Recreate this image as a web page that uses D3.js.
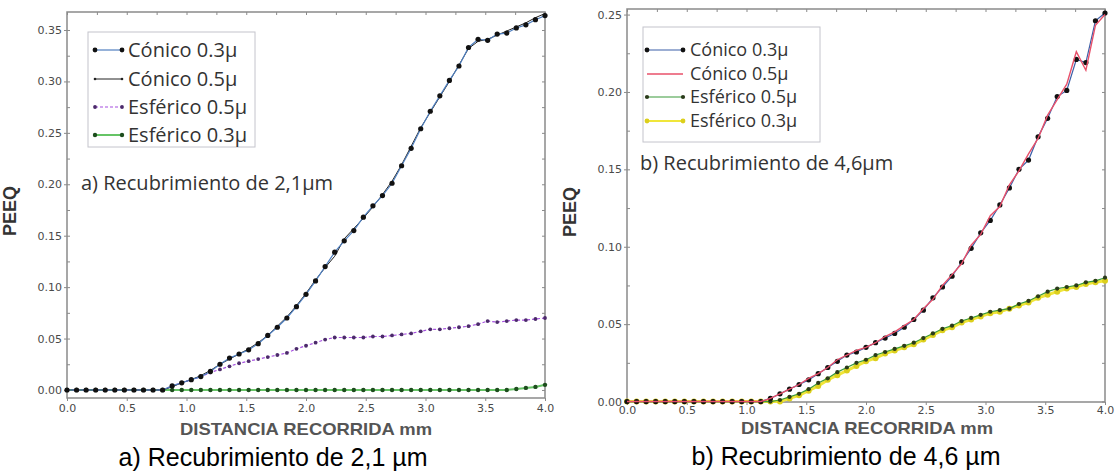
<!DOCTYPE html>
<html>
<head>
<meta charset="utf-8">
<script src="https://cdn.jsdelivr.net/npm/d3@7"></script>
<style>
  body { margin: 0; background: #fff; }
  svg { display: block; }
</style>
</head>
<body>
<script>
// distance along the path (mm), same nodes for every curve
const dist = [0.00,0.08,0.16,0.24,0.32,0.40,0.48,0.56,0.64,0.72,0.80,0.88,0.96,1.04,1.12,1.20,1.28,1.36,1.44,1.52,
  1.60,1.68,1.76,1.84,1.92,2.00,2.08,2.16,2.24,2.32,2.40,2.48,2.56,2.64,2.72,2.80,2.88,2.96,3.04,3.12,
  3.20,3.28,3.36,3.44,3.52,3.60,3.68,3.76,3.84,3.92,4.00];

const xTicks = [0, 0.5, 1, 1.5, 2, 2.5, 3, 3.5, 4];
const yTicksA = [0, 0.05, 0.10, 0.15, 0.20, 0.25, 0.30, 0.35];
const yTicksB = [0, 0.05, 0.10, 0.15, 0.20, 0.25];
const seriesNames = ['Cónico 0.3µ', 'Cónico 0.5µ', 'Esférico 0.5µ', 'Esférico 0.3µ'];

// a) coating 2.1 um
const aConico03 = [0,0,0,0,0,0,0,0,0,0,0,
  0.004,0.007,0.010,0.013,0.018,0.025,0.031,0.035,0.039,0.045,0.053,0.061,0.070,0.081,0.093,0.106,0.120,0.134,0.145,
  0.155,0.168,0.179,0.189,0.201,0.218,0.235,0.254,0.271,0.286,0.301,0.315,0.333,0.341,0.340,0.346,0.347,0.352,0.355,0.360,0.364];
const aConico05 = [0,0,0,0,0,0,0,0,0,0,0,
  0.003,0.007,0.010,0.014,0.019,0.025,0.030,0.035,0.040,0.046,0.053,0.062,0.071,0.082,0.094,0.107,0.119,0.130,0.147,
  0.157,0.167,0.178,0.190,0.203,0.219,0.237,0.255,0.270,0.285,0.300,0.316,0.332,0.339,0.341,0.345,0.349,0.353,0.357,0.362,0.366];
const aEsferico05 = [0,0,0,0,0,0,0,0,0,0,0,
  0.004,0.007,0.010,0.013,0.017,0.020,0.023,0.026,0.028,0.030,0.032,0.034,0.036,0.040,0.043,0.046,0.049,0.051,0.051,
  0.051,0.051,0.052,0.052,0.053,0.054,0.055,0.057,0.059,0.059,0.060,0.061,0.062,0.064,0.067,0.066,0.067,0.068,0.068,0.069,0.070];
const aEsferico03 = [0,0,0,0,0,0,0,0,0,0,0,0,0,0,0,0,0,0,0,0,0,0,0,0,0,0,0,0,0,0,
  0,0,0,0,0,0,0,0,0,0,0,0,0,0,0,0,0,0.001,0.002,0.003,0.005];

// b) coating 4.6 um
const bConico03 = [0,0,0,0,0,0,0,0,0,0,0,0,0,0,0,
  0.002,0.005,0.008,0.011,0.014,0.018,0.022,0.026,0.030,0.032,0.035,0.038,0.041,0.044,0.048,0.053,0.059,0.067,0.074,0.081,
  0.090,0.099,0.109,0.117,0.127,0.138,0.150,0.156,0.171,0.183,0.197,0.201,0.221,0.219,0.246,0.251];
const bConico05 = [0,0,0,0,0,0,0,0,0,0,0,0,0,0,0,
  0.002,0.005,0.008,0.011,0.015,0.018,0.022,0.027,0.030,0.033,0.035,0.038,0.042,0.045,0.049,0.053,0.060,0.066,0.075,0.082,
  0.089,0.101,0.108,0.120,0.126,0.140,0.149,0.160,0.170,0.185,0.195,0.205,0.226,0.214,0.243,0.250];
const bEsferico05 = [0,0,0,0,0,0,0,0,0,0,0,0,0,0,0,
  0.000,0.001,0.003,0.005,0.008,0.012,0.015,0.019,0.022,0.025,0.027,0.030,0.032,0.034,0.036,0.038,0.041,0.044,0.047,0.049,
  0.052,0.054,0.056,0.058,0.059,0.060,0.063,0.065,0.068,0.071,0.073,0.074,0.075,0.077,0.078,0.080];
const bEsferico03 = [0,0,0,0,0,0,0,0,0,0,0,0,0,0,0,
  0.000,0.000,0.002,0.004,0.007,0.010,0.014,0.017,0.020,0.023,0.026,0.028,0.031,0.033,0.035,0.037,0.040,0.043,0.046,0.048,
  0.051,0.053,0.055,0.057,0.058,0.060,0.062,0.064,0.067,0.069,0.071,0.073,0.074,0.076,0.077,0.078];

const svg = d3.select('body').append('svg').attr('width', 1120).attr('height', 475);
svg.append('rect').attr('width', 1120).attr('height', 475).attr('fill', '#fff');

const panels = [
  {
    left: 67, right: 545, top: 12, bottom: 398, yDomain: [-0.0078, 0.3675], yTicks: yTicksA,
    xPad: 3, legend: { x: 88, y: 32, w: 167, h: 115, rows: [50, 79, 107, 135], lx: [95, 122], tx: 128, font: 20 },
    note: { x: 81, y: 190, text: 'a) Recubrimiento de 2,1µm' },
    peeq: [16, 211], xTitle: [306, 435], caption: [273, 466, 'a) Recubrimiento de 2,1 µm'],
    series: [
      { values: aConico03, line: '#4f7fbf', width: 1.2, marker: '#111', r: 2.6 },
      { values: aConico05, line: '#222', width: 1, marker: null, r: 1.3 },
      { values: aEsferico05, line: '#a64fe0', width: 1.2, dash: '3,2', marker: '#4b2a6a', r: 1.9 },
      { values: aEsferico03, line: '#66c466', width: 2, marker: '#1d4d1d', r: 2.2 }
    ],
    order: [3, 2, 1, 0]
  },
  {
    left: 627, right: 1105, top: 9, bottom: 402, yDomain: [-0.0003, 0.2536], yTicks: yTicksB,
    xPad: 1, legend: { x: 643, y: 27, w: 177, h: 115, rows: [50, 74, 97, 121], lx: [647, 683], tx: 690, font: 18 },
    note: { x: 640, y: 170, text: 'b) Recubrimiento de 4,6µm' },
    peeq: [576, 212], xTitle: [867, 434], caption: [846, 465, 'b) Recubrimiento de 4,6 µm'],
    series: [
      { values: bConico03, line: '#3b5fa8', width: 1.2, marker: '#111', r: 2.6 },
      { values: bConico05, line: '#e8506a', width: 1.4, marker: null, r: 0 },
      { values: bEsferico05, line: '#3a9a3a', width: 1.2, marker: '#2a3a1a', r: 2.1 },
      { values: bEsferico03, line: '#f0e63a', width: 3, marker: '#dccf1c', r: 3 }
    ],
    order: [3, 2, 0, 1]
  }
];

function styleAxis(sel) {
  sel.select('.domain').remove();
  sel.selectAll('.tick line').attr('stroke', '#8a8a8a');
  sel.selectAll('.tick text').attr('fill', '#4a4a4a').style('font', '11px "DejaVu Sans", sans-serif');
}

function drawPanel(p) {
  const x = d3.scaleLinear().domain([0, 4]).range([p.left, p.right]);
  const y = d3.scaleLinear().domain(p.yDomain).range([p.bottom, p.top]);
  const g = svg.append('g');
  const minorY = d3.range(0, p.yDomain[1], 0.025);
  const minorX = d3.range(0, 4.01, 0.25);

  // ticks: labelled ones outward on left / bottom, small inward ones all round
  g.append('g').attr('transform', `translate(${p.left},0)`)
    .call(d3.axisLeft(y).tickValues(p.yTicks).tickSize(3).tickPadding(2).tickFormat(d3.format('.2f')))
    .call(styleAxis);
  g.append('g').attr('transform', `translate(${p.left},0)`)
    .call(d3.axisRight(y).tickValues(minorY).tickSize(3).tickFormat(''))
    .call(styleAxis);
  g.append('g').attr('transform', `translate(${p.right},0)`)
    .call(d3.axisLeft(y).tickValues(minorY).tickSize(3).tickFormat(''))
    .call(styleAxis);
  g.append('g').attr('transform', `translate(0,${p.bottom})`)
    .call(d3.axisBottom(x).tickValues(xTicks).tickSize(3).tickPadding(p.xPad).tickFormat(d3.format('.1f')))
    .call(styleAxis);
  g.append('g').attr('transform', `translate(0,${p.top})`)
    .call(d3.axisBottom(x).tickValues(minorX).tickSize(3).tickFormat(''))
    .call(styleAxis);

  g.append('rect')
    .attr('x', p.left).attr('y', p.top)
    .attr('width', p.right - p.left).attr('height', p.bottom - p.top)
    .attr('fill', 'none').attr('stroke', '#8a8a8a').attr('stroke-width', 1.5);

  const line = d3.line().x((d, i) => x(dist[i])).y(d => y(d));
  for (const k of p.order) {
    const s = p.series[k];
    const sg = g.append('g');
    sg.append('path').attr('d', line(s.values))
      .attr('fill', 'none').attr('stroke', s.line).attr('stroke-width', s.width)
      .attr('stroke-dasharray', s.dash || null);
    if (s.marker) {
      sg.selectAll('circle').data(s.values).join('circle')
        .attr('cx', (d, i) => x(dist[i])).attr('cy', d => y(d))
        .attr('r', s.r).attr('fill', s.marker);
    }
  }

  // legend
  const L = p.legend;
  const lg = g.append('g');
  lg.append('rect').attr('x', L.x).attr('y', L.y).attr('width', L.w).attr('height', L.h)
    .attr('fill', '#fff').attr('stroke', '#c4c4cc').attr('stroke-width', 1);
  p.series.forEach((s, i) => {
    const ry = L.rows[i];
    lg.append('line').attr('x1', L.lx[0]).attr('x2', L.lx[1]).attr('y1', ry).attr('y2', ry)
      .attr('stroke', s.line).attr('stroke-width', Math.min(s.width, 2))
      .attr('stroke-dasharray', s.dash || null);
    if (s.r > 0) {
      lg.selectAll(null).data(L.lx).join('circle')
        .attr('cx', d => d).attr('cy', ry).attr('r', Math.min(s.r, 2.4))
        .attr('fill', s.marker || s.line);
    }
    lg.append('text').attr('x', L.tx).attr('y', ry + L.font * 0.34)
      .attr('fill', '#333').style('font', `${L.font}px "Open Sans", sans-serif`)
      .text(seriesNames[i]);
  });

  g.append('text').attr('x', p.note.x).attr('y', p.note.y)
    .attr('fill', '#333').style('font', '20px "Open Sans", sans-serif')
    .text(p.note.text);

  g.append('text').attr('transform', `translate(${p.peeq[0]},${p.peeq[1]}) rotate(-90)`)
    .attr('text-anchor', 'middle').attr('fill', '#333')
    .style('font', 'bold 18px "Liberation Sans", Arial, sans-serif')
    .text('PEEQ');

  g.append('text').attr('x', p.xTitle[0]).attr('y', p.xTitle[1])
    .attr('text-anchor', 'middle').attr('fill', '#555')
    .attr('textLength', 252).attr('lengthAdjust', 'spacingAndGlyphs')
    .style('font', 'bold 17px "Liberation Sans", Arial, sans-serif')
    .text('DISTANCIA RECORRIDA mm');

  g.append('text').attr('x', p.caption[0]).attr('y', p.caption[1])
    .attr('text-anchor', 'middle').attr('fill', '#000')
    .style('font', '25px "Liberation Sans", Arial, sans-serif')
    .text(p.caption[2]);
}

panels.forEach(drawPanel);
</script>
</body>
</html>
